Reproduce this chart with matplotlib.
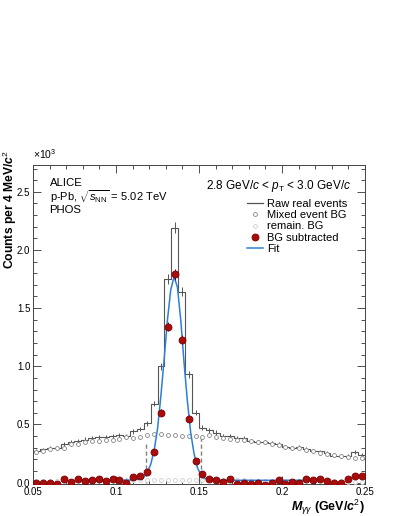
import numpy as np
import matplotlib
matplotlib.use("Agg")
import matplotlib.pyplot as plt
from matplotlib.lines import Line2D
from matplotlib.ticker import MultipleLocator, FormatStrFormatter

# -------------------------
# DATA (counts in units of 10^3)
# -------------------------
x_lo, x_hi, n_bins = 0.05, 0.25, 48

raw = [0.27, 0.285, 0.30, 0.30, 0.33, 0.345, 0.36, 0.37, 0.385, 0.39,
       0.39, 0.40, 0.41, 0.40, 0.44, 0.46, 0.51, 0.68, 1.00, 1.75,
       2.19, 1.64, 0.93, 0.60, 0.47, 0.45, 0.43, 0.40, 0.40, 0.38,
       0.38, 0.36, 0.35, 0.35, 0.34, 0.333, 0.305, 0.296, 0.305, 0.29,
       0.276, 0.268, 0.254, 0.233, 0.228, 0.228, 0.262, 0.24]
raw_err = [0.016, 0.016, 0.017, 0.017, 0.017, 0.018, 0.018, 0.018, 0.019, 0.019,
           0.019, 0.019, 0.019, 0.019, 0.020, 0.020, 0.021, 0.025, 0.030, 0.040,
           0.047, 0.038, 0.029, 0.023, 0.021, 0.020, 0.020, 0.019, 0.019, 0.018,
           0.018, 0.018, 0.018, 0.018, 0.017, 0.017, 0.017, 0.016, 0.017, 0.016,
           0.016, 0.016, 0.015, 0.015, 0.015, 0.015, 0.015, 0.015]

mixed = [0.26, 0.275, 0.29, 0.30, 0.30, 0.33, 0.335, 0.345, 0.355, 0.36,
         0.37, 0.37, 0.375, 0.39, 0.385, 0.393, 0.41, 0.415, 0.415, 0.41,
         0.405, 0.40, 0.40, 0.40, 0.39, 0.405, 0.394, 0.384, 0.375, 0.37,
         0.37, 0.36, 0.35, 0.345, 0.33, 0.32, 0.31, 0.30, 0.298, 0.28,
         0.27, 0.255, 0.245, 0.235, 0.225, 0.22, 0.215, 0.21]
mixed_err = [0.008] * n_bins

remain = [0.010, 0.011, 0.012, 0.012, 0.013, 0.014, 0.014, 0.015, 0.016, 0.016,
          0.017, 0.018, 0.018, 0.019, 0.020, 0.020, 0.021, 0.021, 0.021, 0.022,
          0.022, 0.022, 0.022, 0.022, 0.021, 0.021, 0.021, 0.020, 0.020, 0.019,
          0.019, 0.018, 0.018, 0.017, 0.016, 0.016, 0.015, 0.014, 0.014, 0.013,
          0.012, 0.012, 0.011, 0.010, 0.010, 0.009, 0.009, 0.008]
remain_err = [0.018] * n_bins

bg_sub = [0.0, 0.0, 0.0, -0.015, 0.03, 0.005, 0.03, 0.015, 0.02, 0.03,
          0.01, 0.03, 0.025, 0.0, 0.05, 0.057, 0.09, 0.26, 0.60, 1.34,
          1.79, 1.23, 0.55, 0.19, 0.07, 0.034, 0.026, 0.006, 0.034, -0.009,
          0.0, -0.009, -0.003, -0.017, 0.0, 0.025, -0.015, 0.005, 0.0, 0.034,
          0.02, 0.034, 0.011, 0.0, 0.0, 0.028, 0.054, 0.054]

# fitted curve
fit_x = [0.078, 0.095, 0.110, 0.114, 0.117, 0.119, 0.121, 0.123, 0.125, 0.127,
         0.129, 0.131, 0.133, 0.135, 0.137, 0.139, 0.141, 0.143, 0.145, 0.147,
         0.149, 0.151, 0.153, 0.156, 0.160, 0.170, 0.190, 0.217]
fit_y = [0.02, 0.02, 0.022, 0.03, 0.05, 0.09, 0.16, 0.28, 0.46, 0.74,
         1.06, 1.40, 1.66, 1.77, 1.68, 1.40, 1.03, 0.70, 0.43, 0.25,
         0.13, 0.07, 0.04, 0.026, 0.021, 0.02, 0.02, 0.02]

# integration window
window_x = [0.118, 0.151]
window_top = [0.35, 0.40]

# -------------------------
# STYLE
# -------------------------
plt.rcParams["font.family"] = ["Liberation Sans", "DejaVu Sans"]
plt.rcParams["mathtext.fontset"] = "custom"
plt.rcParams["mathtext.rm"] = "Liberation Sans"
plt.rcParams["mathtext.it"] = "Liberation Sans:italic"
plt.rcParams["mathtext.bf"] = "Liberation Sans:bold"
try:
    plt.rcParams["mathtext.bfit"] = "Liberation Sans:italic:bold"
except KeyError:
    pass

edges = np.linspace(x_lo, x_hi, n_bins + 1)
centers = 0.5 * (edges[:-1] + edges[1:])
half_w = 0.5 * (edges[1] - edges[0])

fig = plt.figure(figsize=(3.99, 5.16), dpi=100)
ax = fig.add_axes([0.0827, 0.062, 0.8321, 0.6182])

# raw histogram
ax.stairs(raw, edges, baseline=None, color="#555555", lw=0.8, zorder=2)
ax.errorbar(centers, raw, yerr=raw_err, xerr=half_w, fmt="none",
            ecolor="#555555", elinewidth=0.7, zorder=2)

# mixed event BG and remaining BG
ax.errorbar(centers, mixed, yerr=mixed_err, fmt="o", ms=2.8, mfc="white",
            mec="#858585", mew=0.6, ecolor="#959595", elinewidth=0.6, zorder=3)
ax.errorbar(centers, remain, yerr=remain_err, fmt="o", ms=2.8, mfc="white",
            mec="#cfcfcf", mew=0.6, ecolor="#d5d5d5", elinewidth=0.6, zorder=3)

# integration window
ax.vlines(window_x, 0, window_top, colors="#808080", linestyles=(0, (3, 2)),
          lw=1.0, zorder=3)

# fit and BG subtracted
ax.plot(fit_x, fit_y, color="#2b7fd6", lw=1.1, zorder=4)
ax.errorbar(centers, bg_sub, yerr=raw_err, fmt="o", ms=5.0, mfc="#a80c0c",
            mec="#7a0000", mew=0.6, ecolor="#7a0000", elinewidth=0.7, zorder=5)

# -------------------------
# AXES
# -------------------------
ax.set_xlim(x_lo, x_hi)
ax.set_ylim(-0.012, 2.73)
ax.xaxis.set_major_locator(MultipleLocator(0.05))
ax.xaxis.set_minor_locator(MultipleLocator(0.01))
ax.yaxis.set_major_locator(MultipleLocator(0.5))
ax.yaxis.set_minor_locator(MultipleLocator(0.1))
ax.yaxis.set_major_formatter(FormatStrFormatter("%.1f"))
ax.xaxis.set_major_formatter(plt.FuncFormatter(lambda v, p: f"{v:g}"))
ax.tick_params(which="both", direction="in", top=True, right=True,
               width=0.6, colors="#333333", labelsize=7.0, labelcolor="black")
ax.tick_params(which="major", length=5.8, pad=2.0)
ax.tick_params(which="minor", length=2.9)
for sp in ax.spines.values():
    sp.set_linewidth(0.7)
    sp.set_color("#444444")

# y title placed in figure pixels so it stays inside the canvas
fig.text(1.0 / 399, 1 - 150 / 516, r"Counts per 4 MeV/$\mathbfit{c}^{2}$",
         fontsize=8.7, fontweight="bold", rotation=90, ha="left", va="top")
ax.set_xlabel(r"$\mathbfit{M}_{\gamma\gamma}$ (GeV/$\mathbfit{c}^{2}$)",
              fontsize=9, fontweight="bold", loc="right")
ax.xaxis.set_label_coords(1.0, -0.042)

ax.text(0.0, 1.012, r"$\times$10$^{3}$", transform=ax.transAxes,
        fontsize=7.5, ha="left", va="bottom")

ax.text(0.05, 0.944, "ALICE", transform=ax.transAxes, fontsize=8.2, va="center")
ax.text(0.05, 0.901, r"p-Pb, $\sqrt{s_{\rm NN}}$ = 5.02 TeV",
        transform=ax.transAxes, fontsize=8.0, va="center")
ax.text(0.05, 0.858, "PHOS", transform=ax.transAxes, fontsize=8.2, va="center")
ax.text(0.958, 0.934, r"2.8 GeV/$c$ < $p_{\rm T}$ < 3.0 GeV/$c$",
        transform=ax.transAxes, fontsize=8.5, ha="right", va="center")

handles = [
    Line2D([], [], color="#555555", lw=0.9),
    Line2D([], [], ls="none", marker="o", ms=2.8, mfc="white", mec="#858585", mew=0.6),
    Line2D([], [], ls="none", marker="o", ms=2.8, mfc="white", mec="#cfcfcf", mew=0.6),
    Line2D([], [], ls="none", marker="o", ms=5.0, mfc="#a80c0c", mec="#7a0000", mew=0.6),
    Line2D([], [], color="#2b7fd6", lw=1.1),
]
labels = ["Raw real events", "Mixed event BG", "remain. BG", "BG subtracted", "Fit"]
ax.legend(handles, labels, loc="upper left", bbox_to_anchor=(0.645, 0.895),
          frameon=False, fontsize=8.0, handlelength=1.4, handletextpad=0.4,
          labelspacing=0.13, borderpad=0.0, borderaxespad=0.0)

fig.savefig("out.png", dpi=100)
